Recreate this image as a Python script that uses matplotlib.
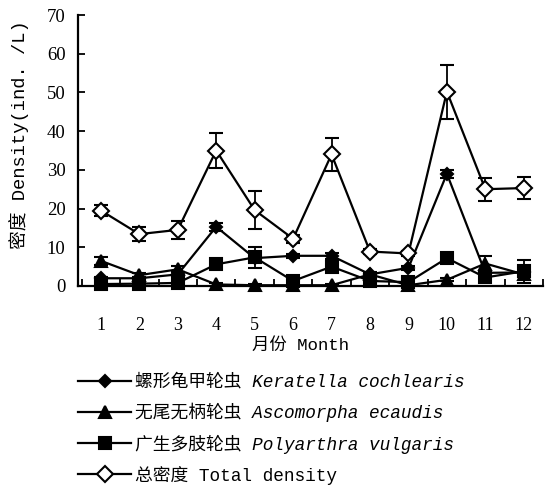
import numpy as np
import matplotlib.pyplot as plt
from matplotlib.lines import Line2D

plt.rcParams['font.family'] = ['Noto Sans CJK SC', 'DejaVu Sans']

# 月份
months = list(range(1, 13))
month_labels = [str(m) for m in months]

# 各种轮虫密度 (ind./L) 及误差
keratella = [2.0, 2.0, 3.0, 15.3, 7.2, 7.8, 7.8, 3.0, 4.7, 29.0, 3.4, 3.5]
keratella_err = [0.4, 0.3, 0.5, 1.0, 0.8, 0.5, 0.8, 0.4, 0.5, 1.0, 0.6, 0.5]
ascomorpha = [6.5, 2.8, 4.3, 0.4, 0.2, 0.2, 0.2, 3.0, 0.2, 1.6, 5.8, 3.0]
ascomorpha_err = [1.0, 0.5, 0.8, 0.3, 0.2, 0.2, 0.2, 0.5, 0.2, 0.4, 2.0, 0.6]
polyarthra = [0.5, 0.6, 0.8, 5.6, 7.4, 1.3, 5.0, 1.3, 1.0, 7.2, 2.2, 3.8]
polyarthra_err = [0.3, 0.3, 0.5, 0.6, 2.8, 0.8, 1.2, 0.6, 0.5, 0.8, 0.8, 2.9]
total = [19.5, 13.4, 14.5, 35.0, 19.6, 12.2, 34.0, 8.9, 8.4, 50.2, 25.0, 25.3]
total_err = [1.5, 1.8, 2.3, 4.5, 5.0, 1.0, 4.2, 0.6, 0.6, 7.0, 3.0, 2.8]

cn_names = ['螺形龟甲轮虫', '无尾无柄轮虫', '广生多肢轮虫', '总密度']
latin_names = ['Keratella cochlearis', 'Ascomorpha ecaudis', 'Polyarthra vulgaris', 'Total density']

W, H = 545, 488
fig = plt.figure(figsize=(W / 100, H / 100), dpi=100)
ax = fig.add_axes([78 / W, (H - 286) / H, (543 - 78) / W, (286 - 15) / H])

series = [
    (keratella, keratella_err, 'D', 'black', 6.5),
    (ascomorpha, ascomorpha_err, '^', 'black', 8),
    (polyarthra, polyarthra_err, 's', 'black', 8),
    (total, total_err, 'D', 'white', 8),
]
handles = []
for i, (vals, err, mk, fc, ms) in enumerate(series):
    ax.errorbar(months, vals, yerr=err, color='black', marker=mk, markersize=ms,
                markerfacecolor=fc, markeredgecolor='black', markeredgewidth=1.5,
                lw=1.6, elinewidth=1.3, capsize=5, capthick=1.3,
                clip_on=False, zorder=3 + i)
    handles.append(Line2D([0], [0], color='black', lw=1.6, marker=mk, markersize=ms,
                          markerfacecolor=fc, markeredgecolor='black', markeredgewidth=1.5))

ax.set_xlim(0.405, 12.44)
ax.set_ylim(0, 70)
ax.spines['top'].set_visible(False)
ax.spines['right'].set_visible(False)
for s in ['left', 'bottom']:
    ax.spines[s].set_linewidth(1.6)

ax.set_xticks(months)
ax.set_xticklabels(month_labels, family='Liberation Serif', fontsize=13)
ax.set_xticks(np.arange(0.5, 13, 1.0), minor=True)
ax.tick_params(axis='x', which='major', length=0, pad=22)
ax.tick_params(axis='x', which='minor', direction='in', length=5, width=1.3)
ax.set_yticks(range(0, 71, 10))
ax.set_yticklabels([str(v) for v in range(0, 71, 10)], family='Liberation Serif', fontsize=13.5)
ax.tick_params(axis='y', direction='in', length=5, width=1.3, pad=9)

mono_cjk = ['Liberation Mono', 'Noto Sans CJK SC']
ax.set_ylabel('密度 Density(ind. /L)', family=mono_cjk, fontsize=13.5)
ax.yaxis.set_label_coords((29 - 78) / 465, 0.56)
ax.set_xlabel('月份 Month', family=mono_cjk, fontsize=12.5, va='top')
ax.xaxis.set_label_coords((301 - 78) / 465, (286 - 337) / 271)

leg = fig.legend(handles, [c + ' ' + l for c, l in zip(cn_names, latin_names)],
                 loc='upper left', bbox_to_anchor=(78 / W, 1 - 374 / H),
                 frameon=False, handlelength=3.0, handletextpad=0.2,
                 labelspacing=0.68, borderpad=0, borderaxespad=0,
                 prop={'family': mono_cjk, 'size': 12.8})
for t in leg.get_texts()[:3]:
    t.set_fontstyle('italic')

fig.savefig('out.png', dpi=100)
